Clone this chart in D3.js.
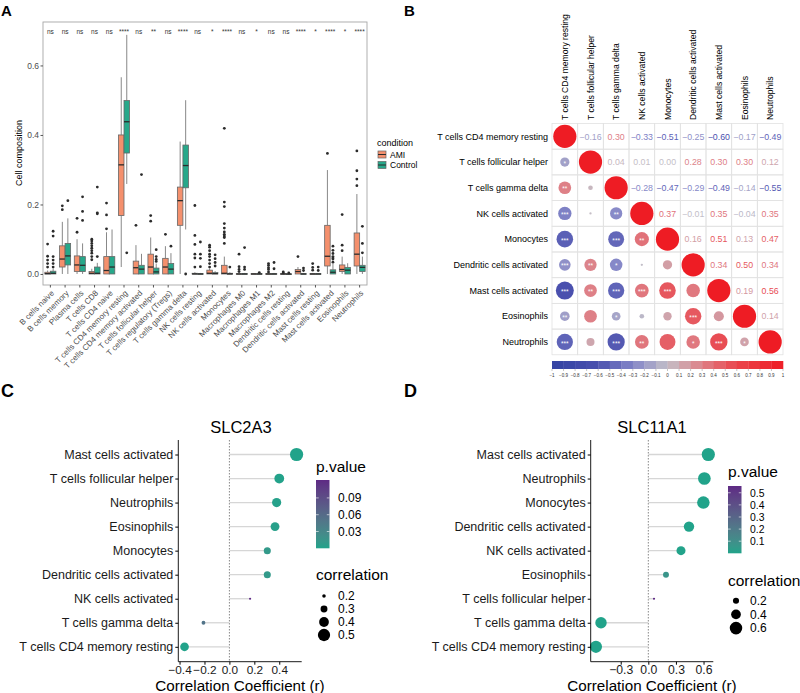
<!DOCTYPE html>
<html><head><meta charset="utf-8">
<script src="https://cdn.jsdelivr.net/npm/d3@7"></script>
<style>body{margin:0;background:#fff} svg{display:block;font-family:"Liberation Sans",Arial,Helvetica,sans-serif}</style>
</head><body><svg id="fig" width="800" height="693"></svg>
<script>
// ---------------- DATA: Panel A ----------------
const cellTypes = ["B cells naive","B cells memory","Plasma cells","T cells CD8","T cells CD4 naive","T cells CD4 memory resting","T cells CD4 memory activated","T cells follicular helper","T cells regulatory (Tregs)","T cells gamma delta","NK cells resting","NK cells activated","Monocytes","Macrophages M0","Macrophages M1","Macrophages M2","Dendritic cells resting","Dendritic cells activated","Mast cells resting","Mast cells activated","Eosinophils","Neutrophils"];
const sigLabels = ["ns","ns","ns","ns","ns","****","ns","**","ns","****","ns","*","****","ns","*","ns","ns","****","*","****","*","****"];
const conditions = ["AMI","Control"];
const yTicksA = [0,0.2,0.4,0.6];
const amiLower  = [0,0,0,0,0,0.02,0,0,0,0,0,0,0,0,0,0,0,0,0,0,0,0];
const amiQ1     = [0,0.02,0.007,0,0,0.168,0,0,0,0.14,0,0,0,0,0,0,0,0,0,0.023,0.007,0.023];
const amiMedian = [0.001,0.043,0.026,0.002,0.01,0.314,0.018,0.02,0.02,0.211,0,0.002,0.002,0,0,0,0,0.007,0,0.051,0.013,0.057];
const amiQ3     = [0.005,0.081,0.052,0.007,0.05,0.4,0.037,0.057,0.045,0.25,0.002,0.011,0.025,0.001,0.001,0.001,0.001,0.013,0.001,0.14,0.026,0.118];
const amiUpper  = [0.01,0.15,0.1,0.015,0.12,0.566,0.083,0.105,0.08,0.381,0.005,0.015,0.05,0.003,0.002,0.003,0.002,0.02,0.003,0.299,0.05,0.23];
const amiOutliers = [[0.086,0.051,0.04,0.03,0.02],[0.196,0.185],[0.16,0.12],[0.1,0.095,0.088,0.081,0.074,0.067,0.06,0.05,0.041],[0.204,0.17,0.13],[],[0.14],[0.168,0.152],[0.114],[],[0.197,0.111,0.085,0.057,0.046,0.02],[0.083,0.077,0.067,0.057,0.05,0.04,0.03,0.02],[0.419,0.207,0.194,0.145,0.132,0.121,0.114,0.109,0.105,0.088],[0.057,0.021,0.013,0.007],[],[0.03,0.025,0.018,0.013,0.006],[0.006,0.003],[0.05],[0.03,0.019,0.011],[0.347],[0.171,0.083,0.067],[0.354,0.297,0.273,0.254]];
const ctrlLower  = [0,0,0,0,0,0.259,0,0,0,0.128,0,0,0,0,0,0,0,0,0,0,0,0];
const ctrlQ1     = [0,0.026,0.007,0,0,0.348,0,0,0,0.248,0,0,0,0,0,0,0,0,0,0,0,0.007];
const ctrlMedian = [0.002,0.052,0.025,0.002,0.02,0.438,0.014,0.006,0.014,0.312,0,0.001,0,0,0,0,0,0,0,0.005,0.011,0.019];
const ctrlQ3     = [0.008,0.088,0.05,0.02,0.05,0.499,0.025,0.017,0.03,0.371,0.001,0.004,0.002,0.001,0.001,0.001,0,0.001,0.001,0.012,0.019,0.025];
const ctrlUpper  = [0.015,0.16,0.088,0.032,0.128,0.688,0.058,0.03,0.06,0.5,0.003,0.008,0.005,0.003,0.002,0.003,0.001,0.003,0.002,0.03,0.031,0.05];
const ctrlOutliers = [[0.123,0.109,0.05,0.04,0.03,0.02],[0.211],[0.222,0.18,0.154],[0.25,0.176,0.173,0.05],[],[0.061],[0.286],[0.07,0.05,0.042,0.036],[0.08],[0],[0.092,0.057,0.045,0.021],[0.055,0.044,0.033,0.023],[0.02],[0.076,0.02,0.013],[0.004],[0.033,0.015],[0.003],[0.017,0.01],[0.02,0.01],[0.08,0.068,0.059,0.05,0.046,0.043,0.034],[],[0.137,0.088,0.061]];

// ---------------- DATA: Panel B ----------------
const corrNames = ["T cells CD4 memory resting","T cells follicular helper","T cells gamma delta","NK cells activated","Monocytes","Dendritic cells activated","Mast cells activated","Eosinophils","Neutrophils"];
const corrRow1 = [1,-0.16,0.30,-0.33,-0.51,-0.25,-0.60,-0.17,-0.49];
const corrRow2 = [-0.16,1,0.04,0.01,0.00,0.28,0.30,0.30,0.12];
const corrRow3 = [0.30,0.04,1,-0.28,-0.47,-0.29,-0.49,-0.14,-0.55];
const corrRow4 = [-0.33,0.01,-0.28,1,0.37,-0.01,0.35,-0.04,0.35];
const corrRow5 = [-0.51,0.00,-0.47,0.37,1,0.16,0.51,0.13,0.47];
const corrRow6 = [-0.25,0.28,-0.29,-0.01,0.16,1,0.34,0.50,0.34];
const corrRow7 = [-0.60,0.30,-0.49,0.35,0.51,0.34,1,0.19,0.56];
const corrRow8 = [-0.17,0.30,-0.14,-0.04,0.13,0.50,0.19,1,0.14];
const corrRow9 = [-0.49,0.12,-0.55,0.35,0.47,0.34,0.56,0.14,1];
const starRows = [[],["*"],["**",""],["***","","**"],["***","","***","**"],["***","**","*","",""],["***","**","***","***","***",""],["**","","*","","","***",""],["***","","***","**","","*","***","*"]];
const colorbarTicks = d3.range(-10,11).map(d=>d/10);

// ---------------- DATA: Panel C ----------------
const cNames = ["Mast cells activated","T cells follicular helper","Neutrophils","Eosinophils","Monocytes","Dendritic cells activated","NK cells activated","T cells gamma delta","T cells CD4 memory resting"];
const cCor = [0.539,0.40,0.379,0.366,0.304,0.304,0.166,-0.208,-0.36];
const cP   = [0.0001,0.001,0.002,0.003,0.01,0.01,0.122,0.05,0.0005];
const cXTicks = [-0.4,-0.2,0,0.2,0.4];
const cPTicks = [0.03,0.06,0.09];
const cSizeTicks = [0.2,0.3,0.4,0.5];

// ---------------- DATA: Panel D ----------------
const dNames = ["Mast cells activated","Neutrophils","Monocytes","Dendritic cells activated","NK cells activated","Eosinophils","T cells follicular helper","T cells gamma delta","T cells CD4 memory resting"];
const dCor = [0.652,0.609,0.598,0.442,0.355,0.192,0.062,-0.514,-0.569];
const dP   = [0.0001,0.0001,0.0001,0.0001,0.001,0.07,0.556,0.0001,0.0001];
const dXTicks = [-0.3,0,0.3,0.6];
const dPTicks = [0.1,0.2,0.3,0.4,0.5];
const dSizeTicks = [0.2,0.4,0.6];

// =============================================================
const svg = d3.select("#fig");
const fmtMinus = s => s.replace("-", "\u2212");

[["A",1,16,15],["B",404,16,15],["C",1,397,18],["D",404,397,18]].forEach(([t,x,y,s])=>{
  svg.append("text").attr("x",x).attr("y",y).attr("font-size",s).attr("font-weight","bold").text(t);
});

// ---------------- Panel A ----------------
(function(){
  const g = svg.append("g");
  const x = d3.scaleBand().domain(cellTypes).range([43,367]);
  const xs = d3.scaleBand().domain(conditions).range([x.bandwidth()*0.125, x.bandwidth()*0.875]);
  const y = d3.scaleLinear().domain([-0.0317,0.725]).range([285,22]);
  const fill = d3.scaleOrdinal().domain(conditions).range(["#F4906D","#27A88A"]);
  const boxes = [];
  cellTypes.forEach((c,i)=>{
    boxes.push({cell:c,cond:"AMI",lo:amiLower[i],q1:amiQ1[i],med:amiMedian[i],q3:amiQ3[i],hi:amiUpper[i],out:amiOutliers[i]});
    boxes.push({cell:c,cond:"Control",lo:ctrlLower[i],q1:ctrlQ1[i],med:ctrlMedian[i],q3:ctrlQ3[i],hi:ctrlUpper[i],out:ctrlOutliers[i]});
  });
  g.append("rect").attr("x",43).attr("y",22).attr("width",324).attr("height",263).attr("fill","none").attr("stroke","#a6a6a6").attr("stroke-width",0.9);
  const bw = xs.bandwidth();
  const bg = g.selectAll("g.box").data(boxes).join("g").attr("transform",d=>`translate(${x(d.cell)+xs(d.cond)},0)`);
  bg.append("line").attr("x1",bw/2).attr("x2",bw/2).attr("y1",d=>y(d.hi)).attr("y2",d=>y(d.q3)).attr("stroke","#7a7a7a").attr("stroke-width",0.9);
  bg.append("line").attr("x1",bw/2).attr("x2",bw/2).attr("y1",d=>y(d.q1)).attr("y2",d=>y(d.lo)).attr("stroke","#7a7a7a").attr("stroke-width",0.9);
  bg.append("rect").attr("x",0).attr("width",bw).attr("y",d=>y(d.q3)).attr("height",d=>Math.max(0.6,y(d.q1)-y(d.q3)))
    .attr("fill",d=>fill(d.cond)).attr("stroke","#666").attr("stroke-width",0.8);
  bg.append("line").attr("x1",0).attr("x2",bw).attr("y1",d=>y(d.med)).attr("y2",d=>y(d.med)).attr("stroke","#2b2b2b").attr("stroke-width",1.3);
  bg.selectAll("circle").data(d=>d.out).join("circle").attr("cx",bw/2).attr("cy",v=>y(v)).attr("r",1.4).attr("fill","#2b2b2b");
  g.selectAll("text.sig").data(cellTypes).join("text").attr("x",d=>x(d)+x.bandwidth()/2).attr("y",34)
    .attr("text-anchor","middle").attr("font-size",6.5).attr("fill","#333").text((d,i)=>sigLabels[i]);
  const ya = g.append("g").attr("transform","translate(43,0)").call(d3.axisLeft(y).tickValues(yTicksA).tickFormat(d3.format(".1f")).tickSize(2.5));
  ya.select(".domain").remove();
  ya.selectAll("line").attr("stroke","#555");
  ya.selectAll("text").attr("font-size",8.5).attr("fill","#4d4d4d").attr("font-family",null).attr("x",-4);
  const xa = g.append("g").attr("transform","translate(0,285)").call(d3.axisBottom(x).tickSize(2.5).tickFormat(""));
  xa.select(".domain").remove();
  xa.selectAll("line").attr("stroke","#555");
  g.selectAll("text.xl").data(cellTypes).join("text")
    .attr("transform",d=>`translate(${x(d)+x.bandwidth()/2+2.5},${292}) rotate(-45)`)
    .attr("text-anchor","end").attr("dy","0.3em").attr("font-size",8).attr("fill","#4d4d4d").text(d=>d);
  g.append("text").attr("transform","translate(22,153) rotate(-90)").attr("text-anchor","middle").attr("font-size",9).text("Cell composition");
  g.append("text").attr("x",377).attr("y",146).attr("font-size",9).text("condition");
  conditions.forEach((c,i)=>{
    const yy = 151 + i*10.5;
    g.append("rect").attr("x",378).attr("y",yy).attr("width",8).attr("height",7).attr("fill",fill(c)).attr("stroke","#666").attr("stroke-width",0.7);
    g.append("line").attr("x1",378).attr("x2",386).attr("y1",yy+3.5).attr("y2",yy+3.5).attr("stroke","#2b2b2b").attr("stroke-width",1);
    g.append("text").attr("x",390).attr("y",yy+6.5).attr("font-size",8.5).text(c);
  });
})();

// ---------------- Panel B ----------------
(function(){
  const g = svg.append("g");
  const corr = [corrRow1,corrRow2,corrRow3,corrRow4,corrRow5,corrRow6,corrRow7,corrRow8,corrRow9];
  const x = d3.scaleBand().domain(corrNames).range([552,783]);
  const y = d3.scaleBand().domain(corrNames).range([123.5,354.8]);
  const cs = x.bandwidth();
  const col = d3.scaleLinear().domain([-1,-0.6,-0.3,0,0.3,0.6,1])
    .range(["#3443A3","#4A50AE","#8486C8","#C4C0C8","#DE8087","#EA454C","#EE1C24"]);
  const cells = [];
  corr.forEach((row,i)=>row.forEach((v,j)=>cells.push({i,j,v,star:(j<i?starRows[i][j]:"")})));
  g.selectAll("rect.cell").data(cells).join("rect").attr("x",d=>x(corrNames[d.j])).attr("y",d=>y(corrNames[d.i]))
    .attr("width",cs).attr("height",cs).attr("fill","none").attr("stroke","#e2e2e2").attr("stroke-width",0.8);
  const low = cells.filter(d=>d.j<=d.i);
  g.selectAll("circle.c").data(low).join("circle").attr("cx",d=>x(corrNames[d.j])+cs/2).attr("cy",d=>y(corrNames[d.i])+cs/2)
    .attr("r",d=>Math.sqrt(Math.abs(d.v))*11.6).attr("fill",d=>col(d.v));
  g.selectAll("text.star").data(low.filter(d=>d.star)).join("text").attr("x",d=>x(corrNames[d.j])+cs/2).attr("y",d=>y(corrNames[d.i])+cs/2+3.6)
    .attr("text-anchor","middle").attr("font-size",6.5).attr("fill","#fff").text(d=>d.star);
  const up = cells.filter(d=>d.j>d.i);
  g.selectAll("text.num").data(up).join("text").attr("x",d=>x(corrNames[d.j])+cs/2).attr("y",d=>y(corrNames[d.i])+cs/2+3.2)
    .attr("text-anchor","middle").attr("font-size",8.8).attr("fill",d=>col(d.v)).text(d=>fmtMinus(d3.format(".2f")(d.v)));
  g.selectAll("text.rl").data(corrNames).join("text").attr("x",548).attr("y",d=>y(d)+cs/2+3.2).attr("text-anchor","end").attr("font-size",9).text(d=>d);
  g.selectAll("text.cl").data(corrNames).join("text").attr("transform",d=>`translate(${x(d)+cs/2+3.2},120) rotate(-90)`).attr("font-size",8.6).text(d=>d);
  const cb = d3.scaleLinear().domain([-1,1]).range([552,783]);
  const bins = d3.range(20).map(k=>-1+k*0.1);
  g.selectAll("rect.cb").data(bins).join("rect").attr("x",d=>cb(d)).attr("y",361).attr("width",cb(0.1)-cb(0)+0.3).attr("height",8).attr("fill",d=>col(d+0.05));
  g.selectAll("line.cbt").data(colorbarTicks).join("line").attr("x1",d=>cb(d)).attr("x2",d=>cb(d)).attr("y1",369).attr("y2",371).attr("stroke","#888").attr("stroke-width",0.5);
  g.selectAll("text.cbl").data(colorbarTicks).join("text").attr("x",d=>cb(d)).attr("y",377).attr("text-anchor","middle").attr("font-size",4.5).attr("fill","#333")
    .text(d=>d3.format("")(Math.round(d*10)/10));
})();

// ---------------- Panels C & D ----------------
function lollipop(cfg){
  const g = svg.append("g");
  const x = d3.scaleLinear().domain(cfg.xDomain).range([cfg.left,cfg.right]);
  const y = d3.scalePoint().domain(cfg.names).range([454.5,646.8]);
  const top = 440, bottom = 661.7;
  const absMin = d3.min(cfg.cor,v=>Math.abs(v)), absMax = d3.max(cfg.cor,v=>Math.abs(v));
  const size = d3.scaleSqrt().domain([absMin,absMax]).range([0,1]);
  const rad = v => 1.1*(1+5*size(Math.max(absMin,Math.abs(v))));
  const color = d3.scaleLinear().domain([0,cfg.pMax]).range(["#21A38A","#5E2A84"]).interpolate(d3.interpolateLab);
  const rows = cfg.names.map((n,i)=>({n,r:cfg.cor[i],p:cfg.p[i]}));
  g.append("line").attr("x1",x(0)).attr("x2",x(0)).attr("y1",top).attr("y2",bottom).attr("stroke","#555").attr("stroke-width",0.7).attr("stroke-dasharray","1.5,1.5");
  g.selectAll("line.seg").data(rows).join("line").attr("x1",x(0)).attr("x2",d=>x(d.r)).attr("y1",d=>y(d.n)).attr("y2",d=>y(d.n)).attr("stroke","#d6d6d6").attr("stroke-width",1.3);
  g.selectAll("circle.pt").data(rows).join("circle").attr("cx",d=>x(d.r)).attr("cy",d=>y(d.n)).attr("r",d=>rad(d.r)).attr("fill",d=>color(d.p));
  const ya = g.append("g").attr("transform",`translate(${cfg.left},0)`).call(d3.axisLeft(y).tickSize(3).tickPadding(2));
  ya.select(".domain").remove();
  ya.selectAll("text").attr("font-size",12.5).attr("fill","#1a1a1a").attr("font-family",null);
  const xa = g.append("g").attr("transform",`translate(0,${bottom})`).call(d3.axisBottom(x).tickValues(cfg.xTicks).tickSize(3).tickPadding(1).tickFormat(d=>fmtMinus(d3.format(".1f")(d))));
  xa.select(".domain").remove();
  xa.selectAll("text").attr("font-size",cfg.xTickFont).attr("fill","#1a1a1a").attr("font-family",null);
  g.append("line").attr("x1",cfg.left).attr("x2",cfg.left).attr("y1",top).attr("y2",bottom).attr("stroke","#000").attr("stroke-width",0.9);
  g.append("line").attr("x1",cfg.left).attr("x2",cfg.right).attr("y1",bottom).attr("y2",bottom).attr("stroke","#000").attr("stroke-width",0.9);
  g.append("text").attr("x",cfg.titleX).attr("y",433).attr("text-anchor","middle").attr("font-size",16.5).text(cfg.title);
  g.append("text").attr("x",(cfg.left+cfg.right)/2).attr("y",690.5).attr("text-anchor","middle").attr("font-size",15.2).text("Correlation Coefficient (r)");
  const L = cfg.legX;
  g.append("text").attr("x",L).attr("y",cfg.pTitleY).attr("font-size",15.5).text("p.value");
  const gid = "grad"+cfg.title;
  const grad = svg.append("defs").append("linearGradient").attr("id",gid).attr("x1",0).attr("x2",0).attr("y1",1).attr("y2",0);
  d3.range(0,1.001,0.1).forEach(t=>grad.append("stop").attr("offset",t).attr("stop-color",color(t*cfg.pMax)));
  const pb = d3.scaleLinear().domain([0,cfg.pMax]).range([cfg.barBottom,cfg.barTop]);
  g.append("rect").attr("x",L).attr("y",cfg.barTop).attr("width",13.5).attr("height",cfg.barBottom-cfg.barTop).attr("fill",`url(#${gid})`);
  cfg.pTicks.forEach(t=>{
    g.append("line").attr("x1",L).attr("x2",L+2.7).attr("y1",pb(t)).attr("y2",pb(t)).attr("stroke","#fff").attr("stroke-width",0.6);
    g.append("line").attr("x1",L+10.8).attr("x2",L+13.5).attr("y1",pb(t)).attr("y2",pb(t)).attr("stroke","#fff").attr("stroke-width",0.6);
    g.append("text").attr("x",L+22).attr("y",pb(t)+cfg.pLabFont*0.36).attr("font-size",cfg.pLabFont).text(d3.format(cfg.pFmt)(t));
  });
  g.append("text").attr("x",L).attr("y",cfg.sTitleY).attr("font-size",15.5).text("correlation");
  cfg.sizeTicks.forEach((t,i)=>{
    const yy = cfg.sFirstY + i*cfg.sStep;
    g.append("circle").attr("cx",L+8).attr("cy",yy).attr("r",Math.min(rad(t),cfg.sStep/2)).attr("fill","#000");
    g.append("text").attr("x",L+22).attr("y",yy+4.3).attr("font-size",12).text(d3.format(".1f")(t));
  });
}
lollipop({title:"SLC2A3",titleX:241,names:cNames,cor:cCor,p:cP,xDomain:[-0.41,0.58],left:178.3,right:301.7,xTicks:cXTicks,xTickFont:11.8,
  pMax:0.122,pTicks:cPTicks,pFmt:".2f",pLabFont:12,legX:316,pTitleY:472,barTop:480,barBottom:548.3,sTitleY:580,sFirstY:596,sStep:13,sizeTicks:cSizeTicks});
lollipop({title:"SLC11A1",titleX:652,names:dNames,cor:dCor,p:dP,xDomain:[-0.626,0.706],left:590.7,right:713.3,xTicks:dXTicks,xTickFont:12.2,
  pMax:0.556,pTicks:dPTicks,pFmt:".1f",pLabFont:10.4,legX:728,pTitleY:477,barTop:486,barBottom:553.3,sTitleY:586,sFirstY:600.7,sStep:13.7,sizeTicks:dSizeTicks});
</script></body></html>
